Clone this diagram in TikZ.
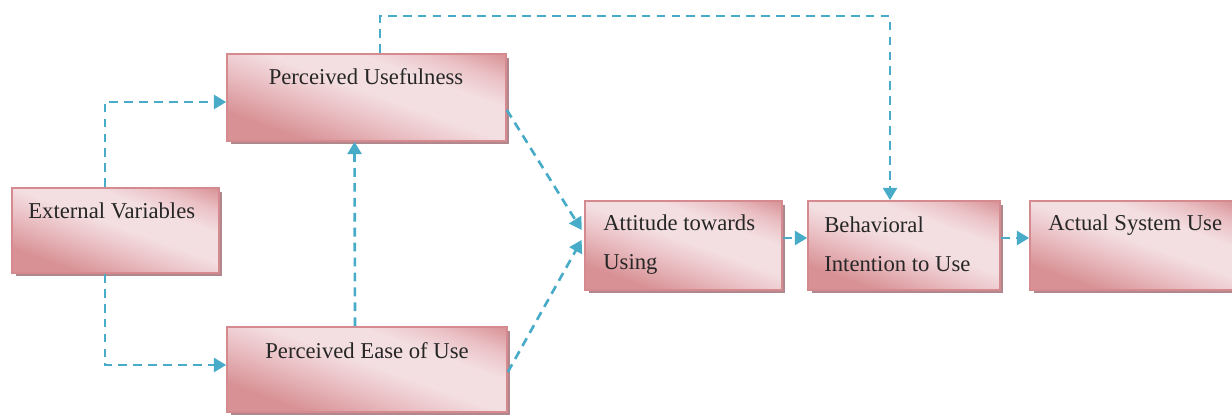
\documentclass[tikz,border=0pt]{standalone}
\usepackage{fontspec}
\setmainfont{Liberation Serif}
\usetikzlibrary{arrows.meta,shadows,calc}
\definecolor{pkdark}{RGB}{216,146,150}
\definecolor{pklight}{RGB}{243,222,225}
\definecolor{pkmid}{RGB}{234,192,196}
\definecolor{pkborder}{RGB}{212,138,142}
\definecolor{pkshadow}{RGB}{175,135,140}
\definecolor{connc}{RGB}{72,172,200}
\pgfdeclarehorizontalshading{pinkbox}{100bp}{color(0bp)=(pkdark); color(28bp)=(pkdark); color(42bp)=(pkmid); color(52bp)=(pklight); color(64bp)=(pklight); color(73bp)=(pkmid); color(82bp)=(pkdark); color(100bp)=(pkdark)}
\tikzset{
  pbox/.style={draw=pkborder, line width=1pt, shading=pinkbox, shading angle=70,
    drop shadow={shadow xshift=0.07cm, shadow yshift=-0.07cm, fill=pkshadow, opacity=1},
    inner sep=0pt},
  lbl/.style={font=\fontsize{12.9}{22}\selectfont, inner sep=0pt, text=black!85},
  conn/.style={draw=connc, line width=1.5pt, dash pattern=on 5pt off 3.5pt,
    -{Triangle[length=7pt,width=8pt]}},
}
\begin{document}
\begin{tikzpicture}[x=0.02cm,y=-0.02cm]
\clip (0,0) rectangle (1232,415);
\fill[white] (0,0) rectangle (1232,415);
% boxes
\node[pbox, minimum width=4.14cm, minimum height=1.70cm] (EV) at (115.5,230.5) {};
\node[pbox, minimum width=5.58cm, minimum height=1.74cm] (PU) at (366.5,97.5) {};
\node[pbox, minimum width=5.60cm, minimum height=1.70cm] (PE) at (367,369.5) {};
\node[pbox, minimum width=3.94cm, minimum height=1.78cm] (AT) at (683.5,245.5) {};
\node[pbox, minimum width=3.84cm, minimum height=1.78cm] (BI) at (904,245.5) {};
\node[pbox, minimum width=4.10cm, minimum height=1.78cm] (AS) at (1132.5,245.5) {};
% labels
\node[lbl, anchor=west] (tEV) at (28,211) {External Variables};
\node[lbl] (tPU) at (366,77) {Perceived Usefulness};
\node[lbl] (tPE) at (367,351) {Perceived Ease of Use};
\node[lbl, anchor=west, align=left] (tAT) at (603,244.5) {Attitude towards\\Using};
\node[lbl, anchor=west, align=left] (tBI) at (824,244.5) {Behavioral\\Intention to Use};
\node[lbl, anchor=west] (tAS) at (1048,225) {Actual System Use};
% connectors
\draw[conn] ([xshift=-0.21cm]EV.north) |- ([yshift=-0.09cm]PU.west);
\draw[conn] ([xshift=-0.21cm]EV.south) |- ([yshift=0.09cm]PE.west);
\draw[conn] ([xshift=-0.24cm]PE.north) -- ([xshift=-0.24cm]PU.south);
\draw[conn] ([yshift=-0.25cm]PU.east) -- ([xshift=-0.05cm,yshift=0.31cm]AT.west);
\draw[conn] ([yshift=-0.05cm]PE.east) -- ([xshift=-0.05cm,yshift=0.11cm]AT.west);
\draw[conn] ([xshift=0.27cm]PU.north) -- ++(0,-37) -| ([xshift=-0.28cm]BI.north);
\draw[conn] ([yshift=0.15cm]AT.east) -- ([yshift=0.15cm]BI.west);
\draw[conn] ([yshift=0.15cm]BI.east) -- ([yshift=0.15cm]AS.west);
\end{tikzpicture}
\end{document}
